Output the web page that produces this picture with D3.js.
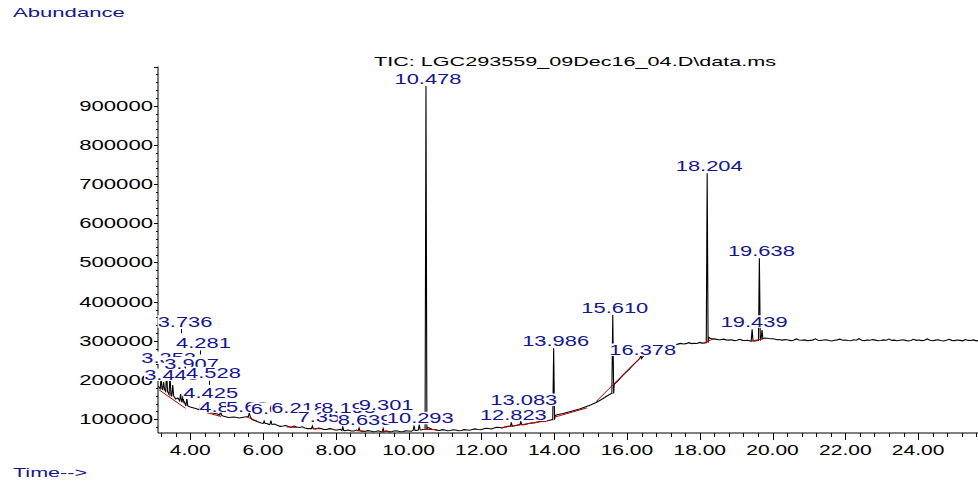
<!DOCTYPE html>
<html>
<head>
<meta charset="utf-8">
<script src="https://cdn.jsdelivr.net/npm/d3@7"></script>
<style>
  html, body { margin: 0; padding: 0; background: #ffffff; }
  svg { display: block; }
  text { font-family: "Liberation Sans", Arial, sans-serif; }
</style>
</head>
<body>
<svg id="chart" width="978" height="482"></svg>
<script>
// Total ion chromatogram: retention time (min) against abundance.

const chartTitle = "TIC: LGC293559_09Dec16_04.D\\data.ms";
const yAxisTitle = "Abundance";
const xAxisTitle = "Time-->";

const yTickValues = [100000, 200000, 300000, 400000, 500000, 600000, 700000, 800000, 900000];
const yTickLabels = ["100000", "200000", "300000", "400000", "500000", "600000", "700000", "800000", "900000"];
const xTickValues = [4, 6, 8, 10, 12, 14, 16, 18, 20, 22, 24];
const xTickLabels = ["4.00", "6.00", "8.00", "10.00", "12.00", "14.00", "16.00", "18.00", "20.00", "22.00", "24.00"];

// Detector baseline between peaks: [time, abundance]
const baselineTrace = [
  [3.12,184900],[3.18,177300],[3.24,179800],[3.30,169600],[3.36,172200],[3.42,164500],
  [3.48,159400],[3.54,162000],[3.60,151800],[3.66,154300],[3.72,146700],[3.78,141600],
  [3.84,144100],[3.90,133900],[4.00,131400],[4.15,127600],[4.30,123700],[4.45,121200],
  [4.60,116100],[4.75,113500],[4.90,108400],[5.05,104600],[5.20,105900],[5.35,103300],
  [5.50,105900],[5.60,108400],[5.70,99500],[5.80,95700],
  [5.95,90600],[6.025,88200],[6.10,89300],[6.175,86400],[6.25,86700],[6.325,87900],
  [6.40,84200],[6.475,82000],[6.55,82900],[6.625,84100],[6.70,81600],[6.775,79700],
  [6.85,82900],[6.925,80200],[7.00,79100],[7.075,80900],[7.15,77800],[7.225,76200],
  [7.30,76500],[7.45,75300],[7.525,77400],[7.60,76500],[7.675,73900],[7.75,74000],
  [7.825,76100],[7.90,75300],[7.975,72600],[8.05,72700],[8.125,74500],[8.26,71000],
  [8.35,72700],[8.425,70100],[8.50,70200],[8.575,72400],[8.70,69800],[8.80,68900],
  [8.875,71000],[8.95,70200],[9.025,68100],[9.10,68900],[9.175,70600],[9.25,67600],
  [9.36,69800],[9.40,70200],[9.475,68000],[9.55,68900],[9.625,70900],[9.70,70200],
  [9.775,68300],[9.85,68900],[9.925,70500],[10.00,70200],[10.075,69500],[10.22,71800],
  [10.36,73200],[10.40,74000],[10.52,79100],[10.60,76500],[10.65,74600],[10.70,74000],
  [10.775,72300],[10.85,71400],[10.925,73600],[11.00,72700],[11.075,70800],[11.15,71400],
  [11.225,73300],[11.30,72700],[11.375,70600],[11.45,71400],[11.525,73500],[11.60,72700],
  [11.675,71900],[11.75,74000],[11.825,75600],[11.90,74000],[11.975,73200],[12.05,75300],
  [12.125,77100],[12.20,76500],[12.275,75400],[12.35,77800],[12.425,79600],[12.50,79100],
  [12.575,78200],[12.65,80400],[12.725,82300],[12.875,82700],[12.95,84200],[13.025,85900],
  [13.175,86100],[13.25,88000],[13.325,89900],[13.40,90600],[13.475,91400],[13.55,93100],
  [13.625,95200],[13.70,94400],[13.775,95700],[13.85,96900],[13.95,99500],
  [14.03,109700],[14.10,112200],[14.25,114800],[14.40,118600],[14.55,122400],[14.70,126300],
  [14.85,131400],[15.00,136500],[15.15,142900],[15.30,150500],[15.45,159400],[15.57,165800],
  [15.65,188800],[15.75,197700],[15.90,213000],[16.05,227000],[16.20,241100],[16.50,267900],
  [16.65,274200],[16.80,280600],[16.95,284400],[17.10,287000],[17.175,288400],[17.25,290100],
  [17.325,289200],[17.40,291800],[17.475,293500],[17.55,292000],[17.625,292900],[17.70,295400],
  [17.775,293100],[17.85,294000],[17.925,293200],[18.00,296100],[18.06,294300],[18.12,294600],
  [18.25,308700],[18.30,305900],[18.35,305200],[18.425,304600],[18.50,303300],[18.575,302800],
  [18.65,304400],[18.725,302500],[18.80,301900],[18.875,302700],[18.95,300600],[19.025,301800],
  [19.10,304000],[19.175,301300],[19.25,300900],[19.31,301600],[19.38,299700],[19.52,299700],
  [19.60,301000],[19.78,307400],[19.90,306100],[20.05,304800],[20.125,303100],
  [20.20,302800],[20.275,301900],[20.35,303400],[20.425,302200],[20.50,300600],[20.575,301400],
  [20.65,304900],[20.725,302100],[20.80,301700],[20.875,302600],[20.95,300800],[21.025,301300],
  [21.10,302000],[21.175,305200],[21.25,301500],[21.325,300900],[21.40,302400],[21.475,303000],
  [21.55,301100],[21.625,299600],[21.70,301800],[21.775,302500],[21.85,304300],[21.925,301600],
  [22.00,302200],[22.075,301000],[22.15,300400],[22.225,302900],[22.30,301700],[22.375,305600],
  [22.45,301400],[22.525,300700],[22.60,302100],[22.675,301500],[22.75,303300],[22.825,301900],
  [22.90,300200],[22.975,301100],[23.05,302600],[23.125,301800],[23.20,304800],[23.275,301200],
  [23.35,302000],[23.425,300500],[23.50,301600],[23.575,302800],[23.65,301300],[23.725,299900],
  [23.80,301000],[23.875,303900],[23.95,301400],[24.025,302300],[24.10,300800],[24.175,301700],
  [24.25,305000],[24.325,301600],[24.40,300300],[24.475,301900],[24.55,302700],[24.625,301000],
  [24.70,299800],[24.775,301500],[24.85,304200],[24.925,301300],[25.00,300600],[25.075,302200],
  [25.15,301400],[25.225,300100],[25.30,303600],[25.375,301200],[25.45,300900],[25.525,302400],
  [25.60,300000],[25.675,301300],[25.75,302600]
];

// Peaks: retention time, apex abundance, abundance at the peak foot
const peakTimes = [3.20, 3.27, 3.352, 3.445, 3.52, 3.736, 3.80, 3.907, 4.281, 4.425, 4.528, 4.835,
  5.624, 6.031, 6.218, 7.356, 8.193, 8.639, 9.301, 10.15, 10.293, 10.478, 12.823, 13.083,
  13.986, 15.610, 16.378, 18.204, 19.439, 19.638, 19.71];
const peakApex = [205400, 195200, 220700, 215600, 187500, 164500, 159400, 154300, 141600, 136500, 131400, 121200,
  117300, 95700, 96500, 82900, 80400, 77800, 76500, 84200, 86700, 950000, 91800, 94400,
  281100, 366000, 262000, 727500, 329600, 510700, 327800];
const peakFoot = [178000, 176000, 171000, 163000, 160000, 147000, 143000, 134000, 124500, 121500, 118500, 110500,
  107000, 89500, 87500, 76000, 71500, 71000, 68000, 71500, 72700, 74500, 82500, 86000,
  99000, 166000, 255000, 295000, 300000, 301000, 305000];

// Retention times printed above integrated peaks
const peakLabels = ["3.352", "3.445", "3.736", "3.907", "4.281", "4.425", "4.528", "4.835", "5.624",
  "6.031", "6.218", "7.356", "8.193", "8.639", "9.301", "10.293", "10.478", "12.823", "13.083",
  "13.986", "15.610", "16.378", "18.204", "19.439", "19.638"];

// Integration baselines: [t0, abundance0, t1, abundance1]
const integrationBaselines = [
  [3.15,174700,3.87,128100],[4.45,117000,4.85,107000],[5.55,106000,5.85,95000],
  [6.65,80400,6.93,79100],[7.35,77000,7.60,75500],[8.55,71000,8.80,69500],
  [9.25,68500,9.45,69000],[10.40,74000,10.78,73500],[12.55,78500,13.90,97500],
  [14.03,106000,14.90,129000],[15.15,145000,16.45,265000],[18.10,294000,18.40,306500],
  [19.38,298500,19.75,306000]
];

// ---- layout (pixels) ----
const plot = { left: 158, right: 980, top: 66.5, bottom: 433 };
// Stacked label placement for crowded peaks: horizontal shift and text baseline
const labelPlacement = {
  "3.352": { dx: 2, base: 363 },
  "3.445": { dx: 1.5, base: 380 },
  "3.736": { dx: 4.4, base: 326.7, tick: true },
  "3.907": { dx: 4.7, base: 368.5 },
  "4.281": { dx: 3, base: 348, tick: true },
  "4.425": { dx: 5, base: 398 },
  "4.528": { dx: 4, base: 378.3, tick: true },
  "4.835": { dx: 6, base: 411.7 },
  "5.624": { dx: 4, base: 411.7 },
  "6.031": { dx: 14, base: 414 },
  "6.218": { dx: 27.6, base: 413 },
  "7.356": { dx: 12.6, base: 421.7 },
  "8.193": { dx: 5.7, base: 413 },
  "8.639": { dx: 6, base: 425 },
  "9.301": { dx: 3, base: 410 },
  "10.293": { dx: 1, base: 423.3 },
  "13.083": { dx: 3, base: 405 },
  "16.378": { dx: 2, base: 355 }
};

const blue = "#16168c";
const svg = d3.select("#chart");

const x = d3.scaleLinear().domain([3.115, 25.7]).range([plot.left, plot.right]);
const y = d3.scaleLinear().domain([65000, 1000000]).range([plot.bottom, plot.top]);

// Horizontally stretched text, as the instrument printout renders it
function stretched(parent, str, px, py, size, sx, anchor, fill) {
  return parent.append("text")
    .attr("transform", `translate(${px},${py}) scale(${sx},1)`)
    .attr("text-anchor", anchor)
    .style("font-size", size + "px")
    .attr("fill", fill)
    .text(str);
}

// ---- axes ----
const axes = svg.append("g").attr("stroke", "#000").attr("stroke-width", 1);
axes.append("line").attr("x1", plot.left).attr("x2", plot.left).attr("y1", plot.top).attr("y2", plot.bottom);
axes.append("line").attr("x1", plot.left).attr("x2", 978).attr("y1", plot.bottom).attr("y2", plot.bottom);

// y ticks: major labelled, minor every 20000
const yMinor = d3.range(80000, 1000001, 20000).filter(v => v % 100000 !== 0);
axes.selectAll(".ym").data(yMinor).join("line")
  .attr("x1", plot.left - 2).attr("x2", plot.left)
  .attr("y1", d => Math.round(y(d)) + 0.5).attr("y2", d => Math.round(y(d)) + 0.5);
axes.selectAll(".yM").data(yTickValues.concat([1000000])).join("line")
  .attr("x1", plot.left - 4).attr("x2", plot.left)
  .attr("y1", d => Math.round(y(d)) + 0.5).attr("y2", d => Math.round(y(d)) + 0.5);

const yLab = svg.append("g");
yTickValues.forEach((v, i) => {
  stretched(yLab, yTickLabels[i], plot.left - 5, y(v) + 5, 14, 1.58, "end", "#000");
});

// x ticks: major every 2 min, minor every 0.4 min
const xMinor = d3.range(3.2, 25.7, 0.4).filter(t => Math.abs(t / 2 - Math.round(t / 2)) > 0.01);
axes.selectAll(".xm").data(xMinor).join("line")
  .attr("x1", d => Math.round(x(d)) + 0.5).attr("x2", d => Math.round(x(d)) + 0.5)
  .attr("y1", plot.bottom).attr("y2", plot.bottom + 4);
axes.selectAll(".xM").data(xTickValues).join("line")
  .attr("x1", d => Math.round(x(d)) + 0.5).attr("x2", d => Math.round(x(d)) + 0.5)
  .attr("y1", plot.bottom).attr("y2", plot.bottom + 7);

const xLab = svg.append("g");
xTickValues.forEach((t, i) => {
  stretched(xLab, xTickLabels[i], x(t), 455, 14, 1.5, "middle", "#000");
});

// ---- chromatogram trace ----
const half = 0.025;
const peakPoints = [];
peakTimes.forEach((t, i) => {
  peakPoints.push([t - half, peakFoot[i]], [t, peakApex[i]], [t + half, peakFoot[i]]);
});
const basePoints = baselineTrace.filter(d => !peakTimes.some(t => Math.abs(d[0] - t) <= 0.03));
const trace = basePoints.concat(peakPoints).sort((a, b) => a[0] - b[0]);

svg.append("defs").append("clipPath").attr("id", "plotClip")
  .append("rect").attr("x", plot.left).attr("y", 0).attr("width", 978 - plot.left).attr("height", plot.bottom);

const line = d3.line().x(d => x(d[0])).y(d => y(d[1]));
svg.append("path")
  .attr("clip-path", "url(#plotClip)")
  .attr("d", line(trace))
  .attr("fill", "none")
  .attr("stroke", "#000")
  .attr("stroke-width", 1.1)
  .attr("stroke-linejoin", "miter");

// integration baselines
svg.append("g").attr("clip-path", "url(#plotClip)")
  .selectAll("line").data(integrationBaselines).join("line")
  .attr("x1", d => x(d[0])).attr("y1", d => y(d[1]))
  .attr("x2", d => x(d[2])).attr("y2", d => y(d[3]))
  .attr("stroke", "#c00000").attr("stroke-width", 1);

// ---- peak labels, each on an opaque white box ----
const labelLayer = svg.append("g");
peakLabels.forEach(lbl => {
  const rt = +lbl;
  const idx = peakTimes.findIndex(t => Math.abs(t - rt) < 1e-6);
  const place = labelPlacement[lbl] || { dx: 2, base: y(peakApex[idx]) - 2.5 };
  const cx = x(rt) + place.dx;
  const g = labelLayer.append("g");
  const sx = 1.46;
  const t = stretched(g, lbl, cx, place.base, 15, sx, "middle", blue);
  const bb = t.node().getBBox();
  g.insert("rect", "text")
    .attr("x", cx + bb.x * sx).attr("width", bb.width * sx)
    .attr("y", place.base - 11.5).attr("height", 12.5)
    .attr("fill", "#fff");
  if (place.tick) {
    g.append("line")
      .attr("x1", Math.round(x(rt)) + 0.5).attr("x2", Math.round(x(rt)) + 0.5)
      .attr("y1", place.base + 2.5).attr("y2", place.base + 6.5)
      .attr("stroke", "#000").attr("stroke-width", 1);
  }
});

// ---- titles ----
stretched(svg, chartTitle, 575, 66, 13.5, 1.6, "middle", "#000");
stretched(svg, yAxisTitle, 13, 17, 13, 1.7, "start", blue);
stretched(svg, xAxisTitle, 13, 477, 13, 1.66, "start", blue);
</script>
</body>
</html>
